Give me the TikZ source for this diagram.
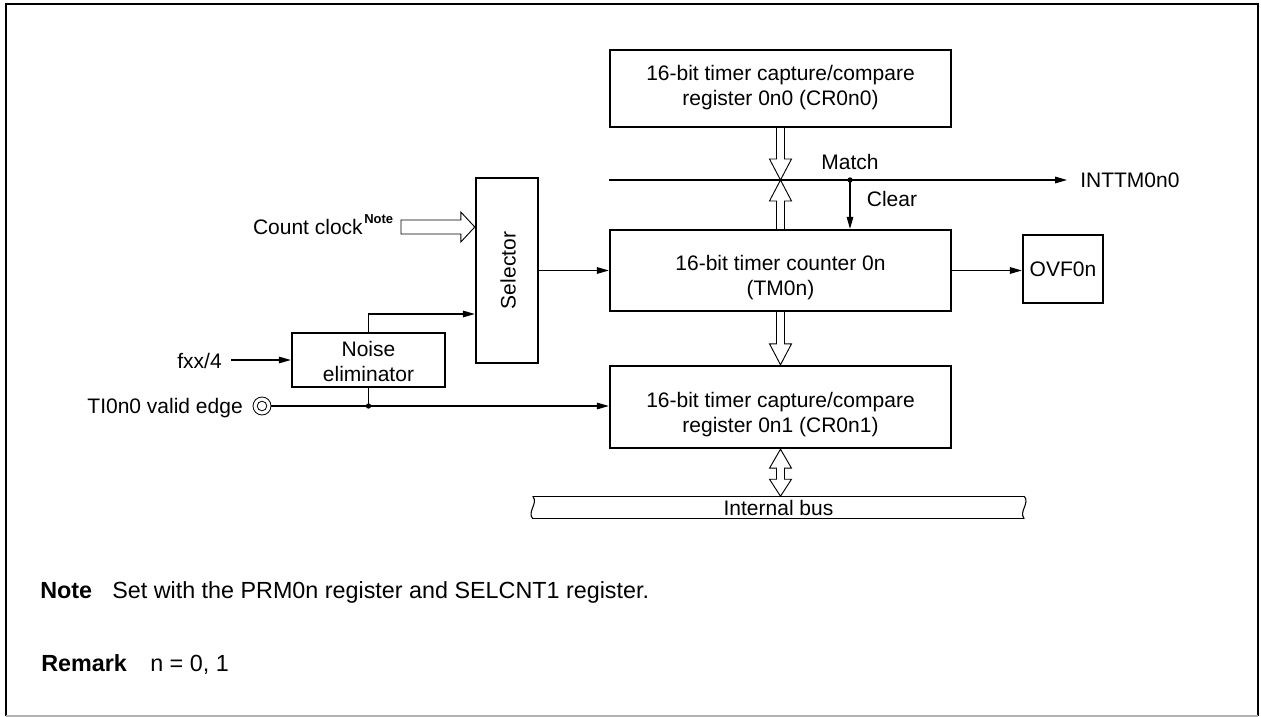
\documentclass[tikz,border=0pt]{standalone}
\usepackage{fontspec}
\setmainfont{Liberation Sans}
\usetikzlibrary{arrows.meta,calc}
\newcommand\hollowdn[2]{%
  \draw[hollow] ($(#1)+(-4,0)$) -- ($(#2)+(-4,-21)$) -- ($(#2)+(-11,-21)$) -- (#2) -- ($(#2)+(11,-21)$) -- ($(#2)+(4,-21)$) -- ($(#1)+(4,0)$);}
\newcommand\hollowup[2]{%
  \draw[hollow] ($(#1)+(-4,0)$) -- ($(#2)+(-4,21)$) -- ($(#2)+(-11,21)$) -- (#2) -- ($(#2)+(11,21)$) -- ($(#2)+(4,21)$) -- ($(#1)+(4,0)$);}
\begin{document}
\begin{tikzpicture}[x=0.75pt,y=-0.75pt,
  font=\fontsize{15.75}{18.75}\selectfont,
  box/.style={draw, line width=1.8pt, inner sep=0, align=center},
  txt/.style={inner sep=0, align=center},
  sig/.style={line width=0.8pt, -{Triangle[length=9pt,width=5pt]}},
  wire/.style={line width=0.8pt},
  hollow/.style={draw, fill=white, line width=0.7pt},
  notefont/.style={font=\fontsize{17.5}{21}\selectfont},
  notebold/.style={font=\fontsize{17.5}{21}\selectfont\bfseries}
]
\useasboundingbox (0,0) rectangle (1261,717);
% frame
\draw[line width=1.5pt] (6,716) -- (6,4) -- (1258,4) -- (1258,716);
\draw[gray!60, line width=0.8pt] (6,716) -- (1258,716);

% boxes
\node[box, minimum width=255.75pt, minimum height=57.75pt] (cr0) at (780.5,88.5) {};
\node[txt] (cr0t) at (780.5,88) {16-bit timer capture/compare\\register 0n0 (CR0n0)};
\node[box, minimum width=255.75pt, minimum height=60.75pt] (tm) at (780.5,270.5) {};
\node[txt] (tmt) at (780.5,278) {16-bit timer counter 0n\\(TM0n)};
\node[box, minimum width=255.75pt, minimum height=61.5pt] (cr1) at (780.5,407) {};
\node[txt] (cr1t) at (780.5,415) {16-bit timer capture/compare\\register 0n1 (CR0n1)};
\node[box, minimum width=46.5pt, minimum height=138.75pt] (sel) at (507,270.5) {};
\node[txt, rotate=90] (selt) at (508,270.5) {Selector};
\node[box, minimum width=114.75pt, minimum height=40.5pt] (noise) at (368.5,360) {};
\node[txt] (noiset) at (368.5,361.5) {Noise\\eliminator};
\node[box, minimum width=60pt, minimum height=51pt] (ovf) at (1063,269) {OVF0n};

% labels
\node[txt, anchor=west] (int) at (1080,180) {INTTM0n0};
\node[txt] (match) at (850,162) {Match};
\node[txt] (clear) at (892,199) {Clear};
\node[txt, anchor=base east] (cc) at (363,234) {Count clock};
\node[txt, anchor=base west, font=\bfseries\fontsize{9.75}{11}\selectfont] (ccn) at (364,223) {Note};
\node[txt, anchor=base east] (fxx) at (222,368) {fxx/4};
\node[txt, anchor=base east] (tit) at (243,413) {TI0n0 valid edge};
\node[circle, draw, line width=0.6pt, minimum size=13.5pt, inner sep=0] (ti) at (262,406) {};
\draw[line width=0.6pt] (ti.center) circle[radius=3.6pt];

% match line
\coordinate (my) at (0,180);
\coordinate (mL) at (cr0.south west |- my);
\coordinate (md) at (850,180);
\draw[sig] (mL) -- ($(int.west)+(-13,0)$);
\fill (md) circle[radius=2pt];
\draw[sig] (md) -- (md |- tm.north);

% signal arrows
\draw[sig] (sel.east) -- (tm.west);
\draw[sig] (tm.east) -- (tm.east -| ovf.west);
\coordinate (fa) at (231,360);
\draw[sig] (fa) -- (noise.west);
\coordinate (nzy) at (0,314);
\draw[sig] (noise.north) |- (sel.west |- nzy);
\draw[sig] (ti.east) -- (ti -| cr1.west);
\coordinate (tj) at (noise.south |- ti.center);
\draw[wire] (tj) -- (noise.south);
\fill (tj) circle[radius=2pt];

% hollow bus arrows
\coordinate (h2) at (cr0.south |- my);
\hollowdn{cr0.south}{h2}
\hollowup{tm.north}{h2}
\hollowdn{tm.south}{cr1.north}

% count clock hollow arrow
\coordinate (cct) at (401,227);
\coordinate (cctip) at (sel.west |- cct);
\draw[hollow] ($(cct)+(0,-7)$) -- ($(cctip)+(-14,-7)$) -- ($(cctip)+(-14,-15)$) -- (cctip) -- ($(cctip)+(-14,15)$) -- ($(cctip)+(-14,7)$) -- ($(cct)+(0,7)$) -- cycle;

% internal bus
\node[txt, minimum width=368.25pt, minimum height=16.5pt] (bus) at (778.5,507.5) {Internal bus};
\draw[wire] (bus.north west) -- (bus.north east);
\draw[wire] (bus.south west) -- (bus.south east);
\draw[wire] (bus.north west) .. controls +(6,7) and +(-6,-7) .. (bus.south west);
\draw[wire] (bus.north east) .. controls +(6,7) and +(-6,-7) .. (bus.south east);
\coordinate (b1) at (cr1.south);
\coordinate (b2) at (cr1.south |- bus.north);
\draw[hollow] (b1) -- ($(b1)+(11,19)$) -- ($(b1)+(4,19)$) -- ($(b2)+(4,-17)$) -- ($(b2)+(11,-17)$) -- (b2) -- ($(b2)+(-11,-17)$) -- ($(b2)+(-4,-17)$) -- ($(b1)+(-4,19)$) -- ($(b1)+(-11,19)$) -- cycle;

% notes
\node[txt, anchor=base west, notebold] (note) at (40,598) {Note};
\node[txt, anchor=base west, notefont] (notet) at (112,598) {Set with the PRM0n register and SELCNT1 register.};
\node[txt, anchor=base west, notebold] (rem) at (41,671) {Remark};
\node[txt, anchor=base west, notefont] (remt) at (150,671) {n = 0, 1};
\end{tikzpicture}
\end{document}
